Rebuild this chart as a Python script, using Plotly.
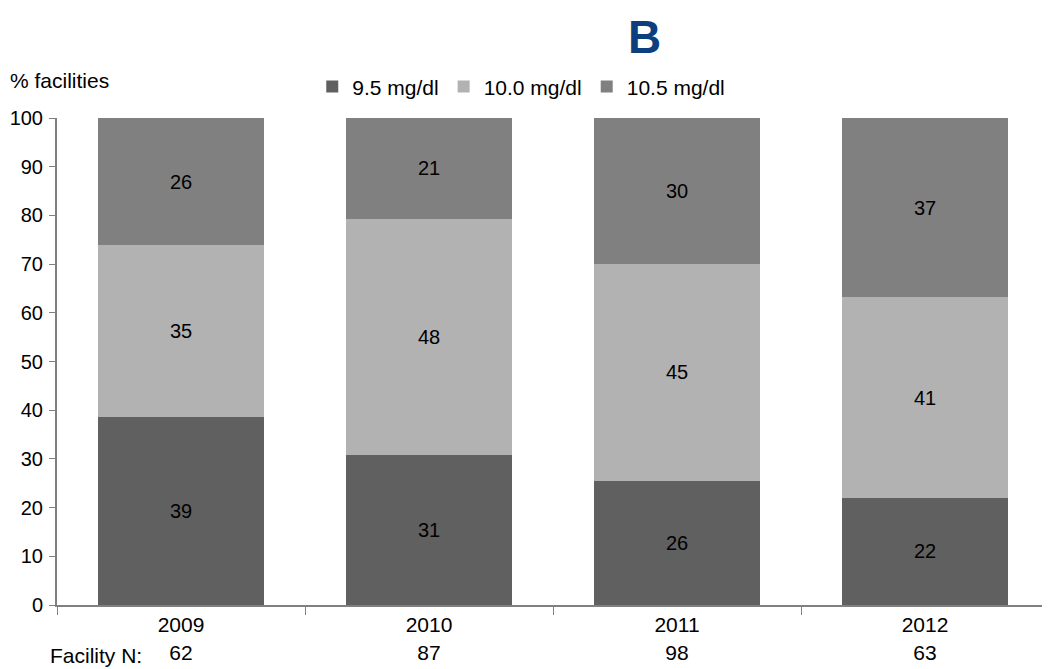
import plotly.graph_objects as go

years = ["2009", "2010", "2011", "2012"]
facility_n = [62, 87, 98, 63]
series_names = ["9.5 mg/dl", "10.0 mg/dl", "10.5 mg/dl"]
# bar heights, labels as printed
low_vals = [38.6, 30.8, 25.5, 22.0]
mid_vals = [35.3, 48.5, 44.5, 41.2]
high_vals = [26.1, 20.7, 30.0, 36.8]
low_text = ["39", "31", "26", "22"]
mid_text = ["35", "48", "45", "41"]
high_text = ["26", "21", "30", "37"]
colors = ["#606060", "#b2b2b2", "#808080"]

font = "Liberation Sans, Arial, sans-serif"

fig = go.Figure()
for name, vals, txt, col in zip(series_names, (low_vals, mid_vals, high_vals),
                                (low_text, mid_text, high_text), colors):
    fig.add_trace(go.Bar(x=years, y=vals, name=name, marker_color=col,
                         marker_line_width=0, text=txt, textposition="inside",
                         insidetextanchor="middle", textangle=0,
                         textfont=dict(color="black", size=20, family=font)))

annotations = [
    dict(text="<b>B</b>", x=0.592, y=1.224, xref="paper", yref="paper",
         yanchor="top", showarrow=False,
         font=dict(size=46, color="#0d3f7f", family=font)),
    dict(text="% facilities", x=-0.049, y=1.078, xref="paper", yref="paper",
         xanchor="left", yanchor="middle", showarrow=False,
         font=dict(size=21, color="black", family=font)),
    dict(text="Facility N:", x=-0.009, y=-0.103, xref="paper", yref="paper",
         xanchor="left", yanchor="middle", showarrow=False,
         font=dict(size=21, color="black", family=font)),
]

tick_text = [f"{yr}<br>{n}" for yr, n in zip(years, facility_n)]

# page has an 8px body margin, so the figure is sized to fit the window
fig.update_layout(
    barmode="stack",
    bargap=0.33,
    width=1042, height=661,
    margin=dict(l=49, r=1, t=110, b=64, autoexpand=False),
    plot_bgcolor="white", paper_bgcolor="white",
    font=dict(family=font, size=21, color="black"),
    legend=dict(orientation="h", x=0.468, y=1.064, xanchor="center", yanchor="middle",
                font=dict(size=21), traceorder="normal"),
    annotations=annotations,
    xaxis=dict(type="category", categoryorder="array", categoryarray=years,
               tickvals=years, ticktext=tick_text, tickson="boundaries",
               showline=True, linecolor="#808080", linewidth=2,
               ticks="outside", tickcolor="#808080", ticklen=8,
               tickfont=dict(size=21)),
    yaxis=dict(range=[0, 100], dtick=10, showline=True, linecolor="#808080",
               linewidth=2, ticks="outside", tickcolor="#808080", ticklen=6,
               ticklabelstandoff=2,
               showgrid=False, zeroline=False, tickfont=dict(size=20)),
)

fig.write_html("out.html")
